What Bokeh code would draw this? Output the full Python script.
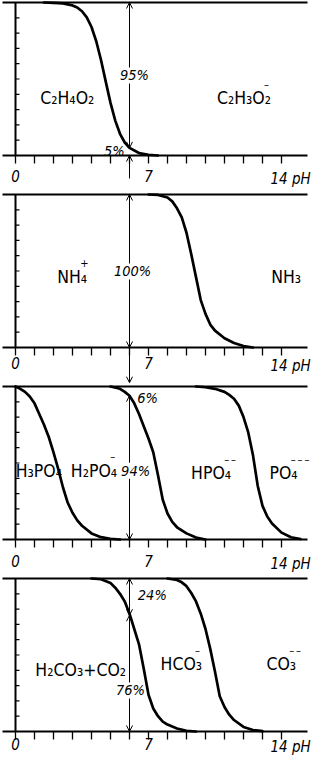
import math
from bokeh.plotting import figure
from bokeh.layouts import column
from bokeh.models import Arrow, OpenHead, Range1d
from bokeh.core.properties import value
from bokeh.embed import file_html
from bokeh.resources import INLINE

# ---------------- data ----------------
ph_ticks = list(range(0, 15))
pct_ticks = list(range(10, 100, 10))
tick_label_ph = [0, 7, 14]
tick_label_text = ["0", "7", "14 pH"]
marker_ph = 6

# panel 1: acetic acid
acetic_ph = [1.5, 2.0, 2.5, 3.0, 3.25, 3.5, 3.75, 4.0, 4.25, 4.5, 4.75, 5.0, 5.25, 5.5, 5.75, 6.0, 6.5, 7.0, 7.5]
acetic_pct = [100, 99.8, 99.4, 98.1, 96.7, 94.3, 90.3, 84.0, 74.7, 62.4, 48.3, 34.4, 22.8, 14.2, 8.5, 5.0, 1.6, 0.5, 0]
acetic_species = ["C₂H₄O₂", "C₂H₃O₂"]
acetic_charges = ["", "–"]
acetic_split = [95, 5]

# panel 2: ammonium
ammonium_ph = [7.0, 7.5, 8.0, 8.25, 8.5, 8.75, 9.0, 9.25, 9.5, 9.75, 10.0, 10.25, 10.5, 11.0, 11.5, 12.0, 12.5]
ammonium_pct = [100, 99.7, 98, 95.5, 91, 85, 75, 61, 46, 31, 22, 15, 11, 6, 3, 1, 0]
ammonium_species = ["NH₄", "NH₃"]
ammonium_charges = ["+", ""]
ammonium_split = [100]

# panel 3: phosphoric acid
phos1_ph = [0.0, 0.25, 0.5, 0.75, 1.0, 1.25, 1.5, 1.75, 2.0, 2.25, 2.5, 2.75, 3.0, 3.25, 3.5, 4.0, 4.5, 5.0, 5.5]
phos1_pct = [100, 98.5, 96.5, 93.5, 89, 82, 75, 67, 57, 46, 34, 24, 17.5, 12.5, 9, 4, 1.5, 0.5, 0]
phos2_ph = [5.0, 5.5, 5.75, 6.0, 6.25, 6.5, 6.75, 7.0, 7.25, 7.5, 7.75, 8.0, 8.25, 8.5, 9.0, 9.5, 10.0]
phos2_pct = [100, 98.5, 96.5, 94, 89, 82, 74, 66, 57, 42, 26, 17, 11.5, 8, 4, 1.3, 0]
phos3_ph = [9.5, 10.0, 10.5, 11.0, 11.25, 11.5, 11.75, 12.0, 12.25, 12.5, 12.75, 13.0, 13.25, 13.5, 14.0, 14.5, 15.0]
phos3_pct = [100, 99.5, 98.5, 96.5, 94.5, 92, 87.5, 80, 70, 55, 35, 22, 15, 10.5, 4.5, 1.5, 0.3]
phos_species = ["H₃PO₄", "H₂PO₄", "HPO₄", "PO₄"]
phos_charges = ["", "–", "–\u2009–", "–\u2009–\u2009–"]
phos_split = [6, 94]

# panel 4: carbonic acid
carb1_ph = [4.0, 4.5, 5.0, 5.25, 5.5, 5.75, 6.0, 6.25, 6.5, 6.75, 7.0, 7.25, 7.5, 7.75, 8.0, 8.5, 9.0, 9.5]
carb1_pct = [100, 99.5, 97, 94, 90, 85, 77, 67, 57, 41, 24, 15, 10, 6.5, 4.5, 2, 0.5, 0]
carb2_ph = [8.0, 8.5, 8.75, 9.0, 9.25, 9.5, 9.75, 10.0, 10.25, 10.5, 10.75, 11.0, 11.25, 11.5, 12.0, 12.5, 13.0]
carb2_pct = [100, 99, 97.5, 95, 90.5, 85, 77, 67, 54, 39, 23, 16, 11, 7.5, 3, 1, 0.2]
carb_species = ["H₂CO₃+CO₂", "HCO₃", "CO₃"]
carb_charges = ["", "–", "–\u2009–"]
carb_split = [24, 76]

# ---------------- layout / style ----------------
FONT = "DejaVu Sans Condensed"
W = 313
PX_PH = 19.0
PX_PCT = 1.53
LEFT_PX = 15
TOP_PX = 2
SHIFT = 0.35   # small horizontal nudge for formula labels


def panel(height, label_gap):
    x0 = -LEFT_PX / PX_PH
    x1 = x0 + W / PX_PH
    y1 = 100 + TOP_PX / PX_PCT
    y0 = y1 - height / PX_PCT
    p = figure(width=W, height=height, x_range=Range1d(x0, x1), y_range=Range1d(y0, y1),
               min_border=0, toolbar_location=None, output_backend="svg",
               x_axis_location=None, y_axis_location=None)
    p.outline_line_color = None
    p.grid.visible = False
    p.background_fill_color = "white"
    xs = -13 / PX_PH
    xe = x0 + 307 / PX_PH
    # frame lines
    p.segment(x0=[xs, xs], y0=[0, 100], x1=[xe, xe], y1=[0, 100], line_color="black", line_width=2.2)
    p.segment(x0=[0], y0=[0], x1=[0], y1=[100], line_color="black", line_width=2)
    # ticks
    p.ray(x=ph_ticks, y=[0] * len(ph_ticks), length=8, length_units="screen",
          angle=-math.pi / 2, line_color="black", line_width=1.3)
    p.ray(x=[0] * len(pct_ticks), y=pct_ticks, length=4, length_units="screen",
          angle=0, line_color="black", line_width=1.2)
    # tick labels
    p.text(x=tick_label_ph[:2], y=[0, 0], text=tick_label_text[:2], text_align="center",
           text_baseline="top", y_offset=label_gap, text_font=value(FONT),
           text_font_style="italic", text_font_size="15px", text_color="black")
    p.text(x=tick_label_ph[2:], y=[0], text=tick_label_text[2:], text_align="left",
           text_baseline="top", x_offset=-11, y_offset=label_gap, text_font=value(FONT),
           text_font_style="italic", text_font_size="15px", text_color="black")
    return p


def curve(p, xs, ys):
    p.line(xs, ys, line_color="black", line_width=2.7, line_join="round", line_cap="round")


def species(p, x_right, y, formula, charge):
    x_right = x_right + SHIFT
    p.text(x=[x_right], y=[y], text=[formula], text_align="right", text_baseline="alphabetic",
           text_font=value(FONT), text_font_size="17.5px", text_color="black")
    if charge:
        p.text(x=[x_right], y=[y], text=[charge], text_align="left", text_baseline="alphabetic",
               x_offset=-7, y_offset=-14, text_font=value(FONT), text_font_size="11px",
               text_color="black")


def pct_label(p, x, y, v, bg=True, align="center"):
    kw = dict(background_fill_color="white", padding=0) if bg else {}
    p.text(x=[x], y=[y], text=[f"{v}%"], text_align=align, text_baseline="middle",
           text_font=value(FONT), text_font_style="italic", text_font_size="14.5px",
           text_color="black", **kw)


def arrow(p, y_start, y_end, start_head=True, end_head=True):
    a = Arrow(x_start=marker_ph, y_start=y_start, x_end=marker_ph, y_end=y_end,
              line_width=1, line_color="black", level="underlay",
              start=OpenHead(size=6, line_width=1) if start_head else None,
              end=OpenHead(size=6, line_width=1) if end_head else None)
    p.add_layout(a)


# panel 1
p1 = panel(192, 14)
arrow(p1, 100, 100 - acetic_split[0])
arrow(p1, -15, 0, start_head=False)
curve(p1, acetic_ph, acetic_pct)
species(p1, 3.8, 37.9, acetic_species[0], acetic_charges[0])
species(p1, 13.1, 37.3, acetic_species[1], acetic_charges[1])
pct_label(p1, 6.26, 52.3, acetic_split[0])
pct_label(p1, 5.2, 3.0, acetic_split[1], bg=False)

# panel 2
p2 = panel(192, 9)
arrow(p2, 100, 100 - ammonium_split[0])
arrow(p2, 0, -23, start_head=False)
curve(p2, ammonium_ph, ammonium_pct)
species(p2, 3.42, 45.8, ammonium_species[0], ammonium_charges[0])
species(p2, 14.68, 45.8, ammonium_species[1], ammonium_charges[1])
pct_label(p2, 6.16, 49.7, ammonium_split[0])

# panel 3
p3 = panel(192, 15)
arrow(p3, 100 - phos_split[0], 0)
curve(p3, phos1_ph, phos1_pct)
curve(p3, phos2_ph, phos2_pct)
curve(p3, phos3_ph, phos3_pct)
species(p3, 2.1, 45.0, phos_species[0], phos_charges[0])
species(p3, 5.0, 45.0, phos_species[1], phos_charges[1])
species(p3, 11.0, 43.3, phos_species[2], phos_charges[2])
species(p3, 14.5, 43.3, phos_species[3], phos_charges[3])
pct_label(p3, 6.95, 92.8, phos_split[0], bg=False)
pct_label(p3, 6.32, 45.0, phos_split[1])

# panel 4
p4 = panel(182, 6)
arrow(p4, 100, 100 - carb_split[0])
arrow(p4, carb_split[1], 0)
curve(p4, carb1_ph, carb1_pct)
curve(p4, carb2_ph, carb2_pct)
species(p4, 5.47, 40.5, carb_species[0], carb_charges[0])
species(p4, 9.47, 44.0, carb_species[1], carb_charges[1])
species(p4, 14.42, 44.0, carb_species[2], carb_charges[2])
pct_label(p4, 7.2, 88.9, carb_split[0], bg=False)
pct_label(p4, 6.05, 26.8, carb_split[1])

layout = column(p1, p2, p3, p4, spacing=0)
open("out.html", "w").write(file_html(layout, INLINE))
